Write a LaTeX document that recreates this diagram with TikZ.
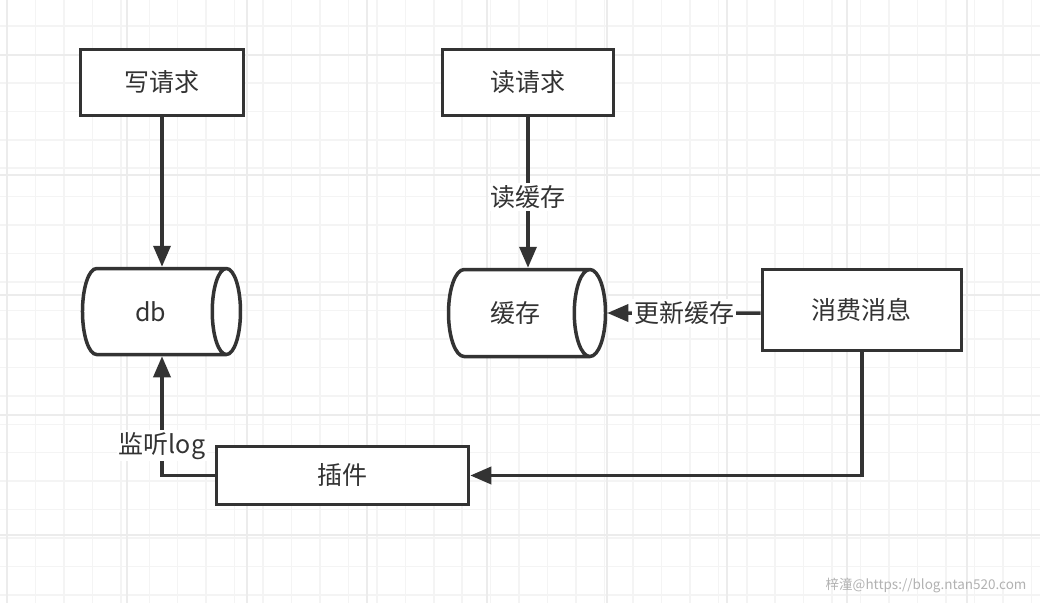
\documentclass[tikz,border=0pt]{standalone}
\usepackage{fontspec}
\setmainfont{Noto Sans CJK SC}
\usetikzlibrary{shapes.geometric,arrows.meta}
\definecolor{ink}{HTML}{333333}
\definecolor{gridminor}{HTML}{F4F4F4}
\definecolor{gridmajor}{HTML}{ECECEC}
\begin{document}
\begin{tikzpicture}[x=30pt, y=30pt,
		box/.style={draw=ink, fill=white, line width=3.5pt, text=ink, font=\fontsize{25}{30}\selectfont},
		store/.style={box, cylinder, aspect=1.05, shape border rotate=0, anchor=shape center},
		link/.style={draw=ink, line width=3.5pt, -{Triangle[length=21pt,width=17pt]}},
		lbl/.style={fill=white, text=ink, inner sep=2pt, font=\fontsize{25}{30}\selectfont}]
		\useasboundingbox (0, 0) rectangle (34.667, 20.067);
		\fill[white] (0, 0) rectangle (34.667, 20.067);
		% grid
		\draw[gridminor, line width=1.5pt, shift={(0.2333, 0.2333)}] (-1, -1) grid (35, 20);
		\draw[gridmajor, line width=1.5pt, shift={(0.2333, 2.2333)}] (-4, -4) grid[step=4] (36, 20);
		% nodes
		\node[box, minimum width=163pt, minimum height=66pt] (write) at (5.4, 17.317) {写请求};
		\node[box, minimum width=171pt, minimum height=66pt] (read) at (17.6, 17.317) {读请求};
		\node[store, minimum width=86pt, minimum height=158pt] (db) at (5.383, 9.683) {db};
		\node[store, minimum width=87pt, minimum height=157pt] (cache) at (17.567, 9.633) {缓存};
		\node[box, minimum width=199pt, minimum height=81pt] (consume) at (28.733, 9.733) {消费消息};
		\node[box, minimum width=252pt, minimum height=58pt] (plugin) at (11.417, 4.217) {插件};
		% arrows
		\draw[link] (write) -- (write |- db.north);
		\draw[link] (read) -- node[lbl, pos=0.53]{读缓存} (read |- cache.north);
		\draw[link] (consume.west |- cache) -- node[lbl]{更新缓存} (cache);
		\draw[link] (consume.south) |- (plugin.east);
		\draw[link] (plugin.west) -| node[lbl, pos=0.625]{监听log} (write |- db.south);
		\node[anchor=east, text=gray!60, font=\fontsize{13.5}{16}\selectfont] (mark) at (34.333, 0.567) {梓潼@https://blog.ntan520.com};
	\end{tikzpicture}
\end{document}
